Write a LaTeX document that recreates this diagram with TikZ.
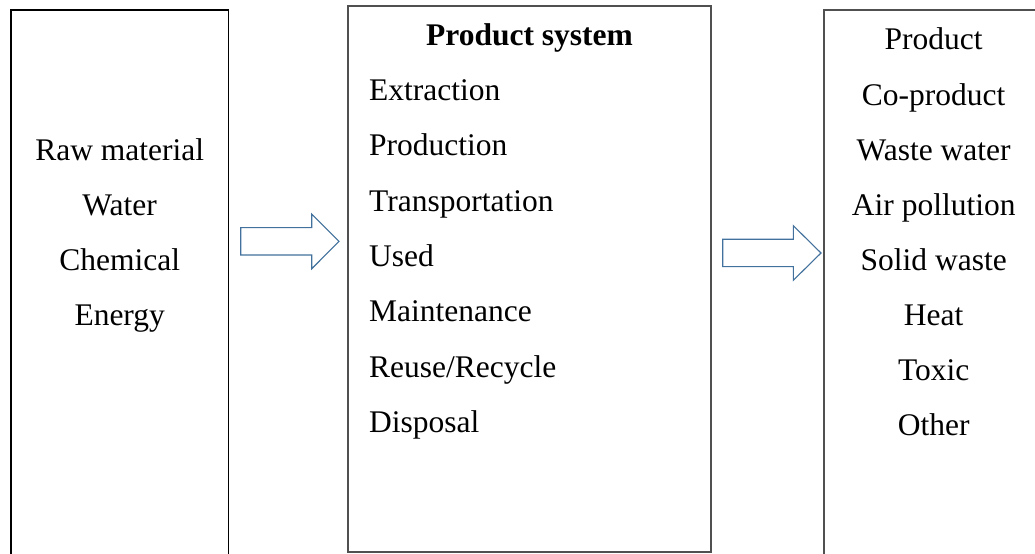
\documentclass[tikz,border=0pt]{standalone}
\usepackage{fontspec}
\setmainfont{Liberation Serif}
\definecolor{boxgray}{RGB}{80,80,80}
\definecolor{arrowblue}{RGB}{65,113,156}
\tikzset{
  stagebox/.style={draw, line width=1.1bp, inner sep=0pt},
  blockarrow/.style={draw=arrowblue, fill=white, line width=1.1bp, line join=miter},
  itemtext/.style={inner sep=0pt, font=\fontsize{31.5bp}{38bp}\selectfont},
}
\begin{document}
\begin{tikzpicture}[x=1bp, y=-1bp]
  \useasboundingbox (0,0) rectangle (1035,554);
  \clip (0,0) rectangle (1035,554);
  \fill[white] (0,0) rectangle (1035,554);

  % three stage boxes (the outer two run off the page)
  \node[stagebox, draw=black, minimum width=217.7bp, minimum height=610bp] (inbox) at (119.85,315) {};
  \node[stagebox, draw=boxgray, minimum width=363bp, minimum height=546bp] (sysbox) at (529.5,279) {};
  \node[stagebox, draw=boxgray, minimum width=236bp, minimum height=610bp] (outbox) at (942,315) {};

  % inputs
  \foreach \t [count=\i from 0] in {Raw material, Water, Chemical, Energy}
    \node[itemtext, anchor=base] (in\i) at (119.7, 160.7+54.8*\i) {\t};

  % product system stages
  \node[itemtext, anchor=base, font=\fontsize{31.5bp}{38bp}\selectfont\bfseries] (systitle) at (529.5,46) {Product system};
  \foreach \t [count=\i from 0] in {Extraction, Production, Transportation, Used, Maintenance, Reuse/Recycle, Disposal}
    \node[itemtext, anchor=base west] (st\i) at (369, 100.7+55.3*\i) {\t};

  % outputs
  \foreach \t [count=\i from 0] in {Product, Co-product, Waste water, Air pollution, Solid waste, Heat, Toxic, Other}
    \node[itemtext, anchor=base] (out\i) at (933.7, 50+55.1*\i) {\t};

  % block arrows between the boxes
  \draw[blockarrow] (240.7,227.7) -- (311.7,227.7) -- (311.7,214) -- (339,241.4)
    -- (311.7,268.8) -- (311.7,255) -- (240.7,255) -- cycle;
  \draw[blockarrow] (722.7,239.3) -- (793.3,239.3) -- (793.3,225.7) -- (821,253)
    -- (793.3,280.3) -- (793.3,266.7) -- (722.7,266.7) -- cycle;
\end{tikzpicture}
\end{document}
